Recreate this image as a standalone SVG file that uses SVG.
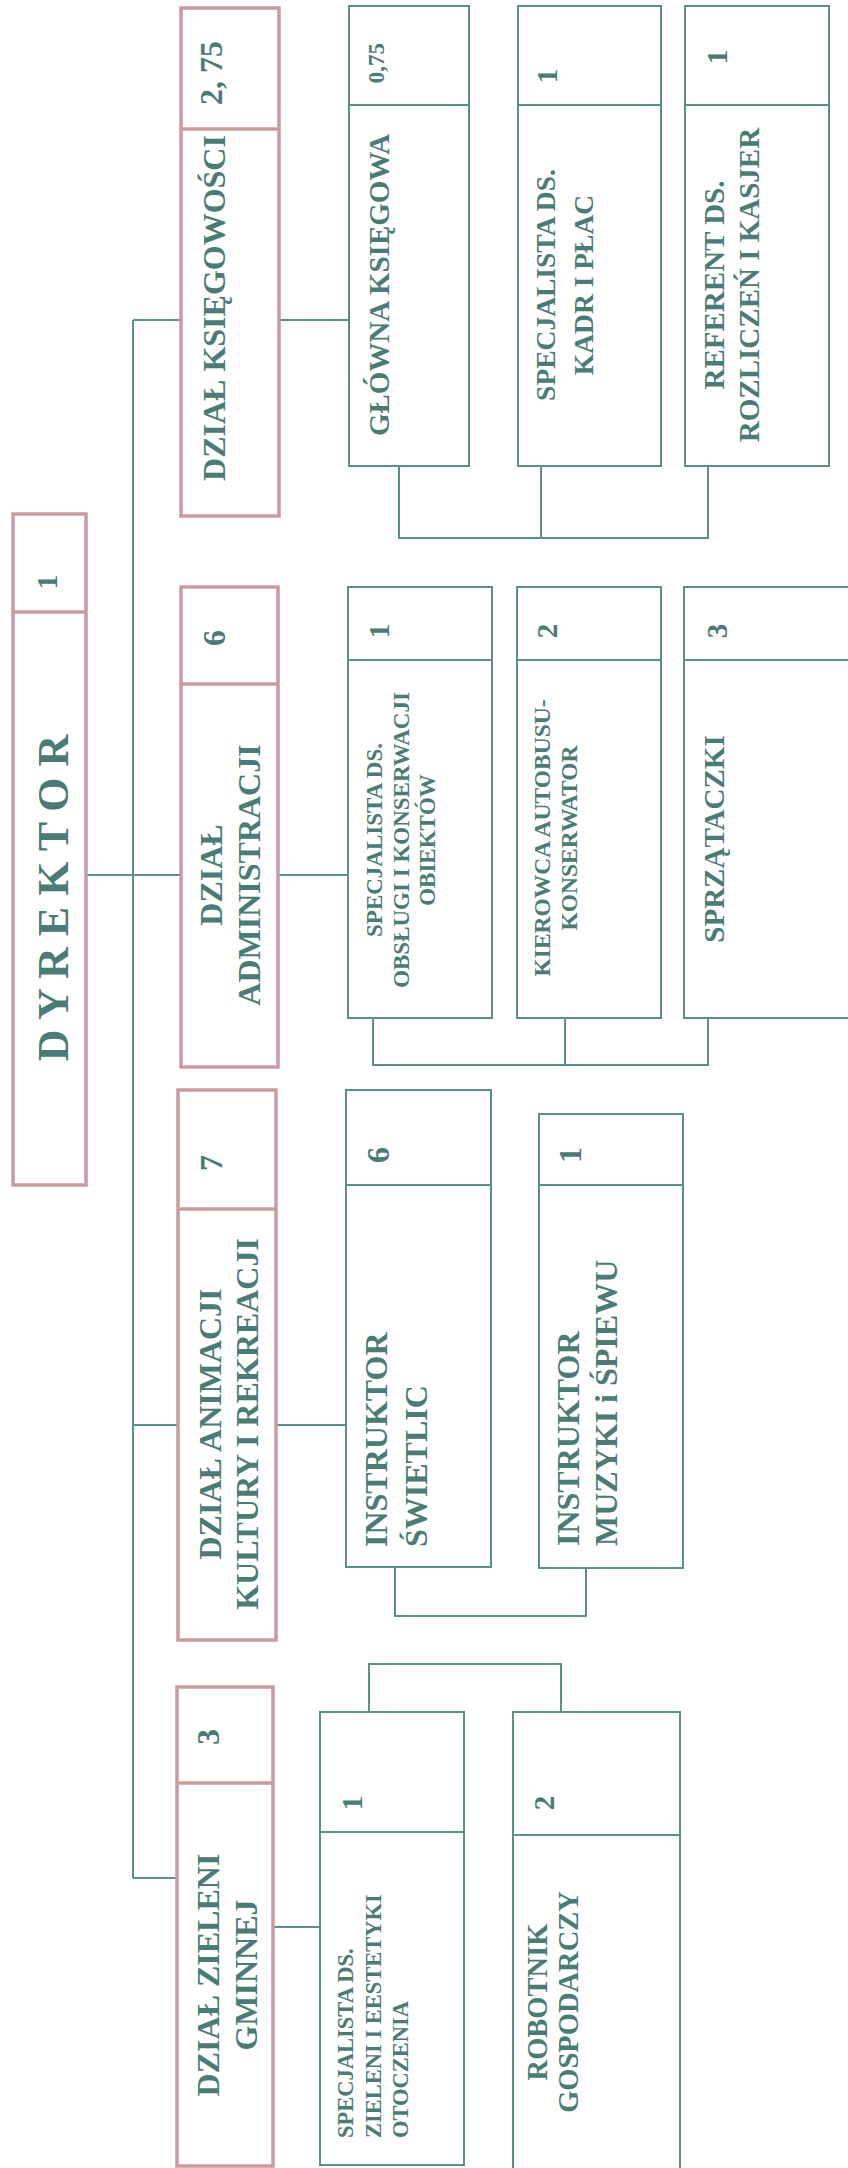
<svg xmlns="http://www.w3.org/2000/svg" width="848" height="2168" viewBox="0 0 848 2168">
<style>
.bg{fill:#ffffff}
.dept{fill:#ffffff;stroke:#c99aa0;stroke-width:3.5}
.ddiv{stroke:#c99aa0;stroke-width:3.5}
.box{fill:#ffffff;stroke:#5b8f88;stroke-width:2}
.bdiv{stroke:#5b8f88;stroke-width:2}
.con{fill:none;stroke:#5b8f88;stroke-width:2}
text{font-family:"Liberation Serif","Times New Roman",serif;font-weight:bold;fill:#4b7b75}
.t32{font-size:32px}
.t29{font-size:29px}
.t23{font-size:23px}
.t22{font-size:22.5px}
.mid{text-anchor:middle}
.st{text-anchor:start}
</style>
<rect class="bg" x="0" y="0" width="848" height="2168"/>

<g id="connectors">
  <path class="con" d="M133,320 V1878"/>
  <path class="con" d="M133,320 H181"/>
  <path class="con" d="M86,875 H181"/>
  <path class="con" d="M133,1425 H178"/>
  <path class="con" d="M133,1878 H177"/>
  <path class="con" d="M279,320 H349"/>
  <path class="con" d="M278,875 H348"/>
  <path class="con" d="M276,1425 H346"/>
  <path class="con" d="M273,1927 H320"/>
  <path class="con" d="M399,466 V538 H708 V466 M541,466 V538"/>
  <path class="con" d="M373,1018 V1065 H708 V1018 M565,1018 V1065"/>
  <path class="con" d="M395,1567 V1616 H586 V1568"/>
  <path class="con" d="M369,1712 V1664 H561 V1712"/>
</g>

<g id="dyrektor">
  <rect class="dept" x="13" y="514" width="73" height="671"/>
  <line class="ddiv" x1="13" y1="612" x2="86" y2="612"/>
  <text class="t29 mid" transform="translate(0,582) rotate(-90)"><tspan x="0" y="57">1</tspan></text>
  <text class="mid" style="font-size:44px" transform="translate(0,898) rotate(-90)"><tspan x="0" y="68">D Y R E K T O R</tspan></text>
</g>

<g id="dzial-ksiegowosci">
  <rect class="dept" x="181" y="8" width="98" height="508"/>
  <line class="ddiv" x1="181" y1="129" x2="279" y2="129"/>
  <text class="t32 mid" transform="translate(0,73) rotate(-90)"><tspan x="0" y="222">2, 75</tspan></text>
  <text class="t32 mid" transform="translate(0,308) rotate(-90)"><tspan x="0" y="225">DZIAŁ KSIĘGOWOŚCI</tspan></text>
</g>

<g id="glowna-ksiegowa">
  <rect class="box" x="349" y="6" width="120" height="460"/>
  <line class="bdiv" x1="349" y1="105" x2="469" y2="105"/>
  <text class="t23 mid" transform="translate(0,63) rotate(-90)"><tspan x="0" y="384">0,75</tspan></text>
  <text class="t29 mid" transform="translate(0,285) rotate(-90)"><tspan x="0" y="389">GŁÓWNA KSIĘGOWA</tspan></text>
</g>

<g id="specjalista-kadr">
  <rect class="box" x="518" y="6" width="143" height="460"/>
  <line class="bdiv" x1="518" y1="105" x2="661" y2="105"/>
  <text class="t29 mid" transform="translate(0,76) rotate(-90)"><tspan x="0" y="557">1</tspan></text>
  <text class="mid" style="font-size:27.5px" transform="translate(0,285) rotate(-90)"><tspan x="0" y="555">SPECJALISTA DS.</tspan><tspan x="0" y="593">KADR I PŁAC</tspan></text>
</g>

<g id="referent">
  <rect class="box" x="685" y="6" width="144" height="460"/>
  <line class="bdiv" x1="685" y1="105" x2="829" y2="105"/>
  <text class="t29 mid" transform="translate(0,57) rotate(-90)"><tspan x="0" y="727">1</tspan></text>
  <text class="t29 mid" transform="translate(0,285) rotate(-90)"><tspan x="0" y="724">REFERENT DS.</tspan><tspan x="0" y="759">ROZLICZEŃ I KASJER</tspan></text>
</g>

<g id="dzial-administracji">
  <rect class="dept" x="181" y="587" width="97" height="480"/>
  <line class="ddiv" x1="181" y1="684" x2="278" y2="684"/>
  <text class="t32 mid" transform="translate(0,638) rotate(-90)"><tspan x="0" y="225">6</tspan></text>
  <text class="t32 mid" transform="translate(0,875) rotate(-90)"><tspan x="0" y="222">DZIAŁ</tspan><tspan x="0" y="260">ADMINISTRACJI</tspan></text>
</g>

<g id="specjalista-obslugi">
  <rect class="box" x="348" y="587" width="144" height="431"/>
  <line class="bdiv" x1="348" y1="660" x2="492" y2="660"/>
  <text class="t29 mid" transform="translate(0,631) rotate(-90)"><tspan x="0" y="389">1</tspan></text>
  <text class="t23 mid" transform="translate(0,840) rotate(-90)"><tspan x="0" y="382">SPECJALISTA DS.</tspan><tspan x="0" y="409">OBSŁUGI I KONSERWACJI</tspan><tspan x="0" y="435">OBIEKTÓW</tspan></text>
</g>

<g id="kierowca">
  <rect class="box" x="517" y="587" width="144" height="431"/>
  <line class="bdiv" x1="517" y1="660" x2="661" y2="660"/>
  <text class="t29 mid" transform="translate(0,631) rotate(-90)"><tspan x="0" y="557">2</tspan></text>
  <text class="mid" style="font-size:23.5px" transform="translate(0,838) rotate(-90)"><tspan x="0" y="550">KIEROWCA AUTOBUSU-</tspan><tspan x="0" y="577">KONSERWATOR</tspan></text>
</g>

<g id="sprzataczki">
  <rect class="box" x="684" y="587" width="200" height="431"/>
  <line class="bdiv" x1="684" y1="660" x2="884" y2="660"/>
  <text class="t29 mid" transform="translate(0,631) rotate(-90)"><tspan x="0" y="727">3</tspan></text>
  <text class="t29 mid" transform="translate(0,839) rotate(-90)"><tspan x="0" y="724">SPRZĄTACZKI</tspan></text>
</g>

<g id="dzial-animacji">
  <rect class="dept" x="178" y="1090" width="98" height="550"/>
  <line class="ddiv" x1="178" y1="1209" x2="276" y2="1209"/>
  <text class="t32 mid" transform="translate(0,1163) rotate(-90)"><tspan x="0" y="222">7</tspan></text>
  <text class="t32 mid" transform="translate(0,1424) rotate(-90)"><tspan x="0" y="221">DZIAŁ ANIMACJI</tspan><tspan x="0" y="258">KULTURY I REKREACJI</tspan></text>
</g>

<g id="instruktor-swietlic">
  <rect class="box" x="346" y="1090" width="145" height="477"/>
  <line class="bdiv" x1="346" y1="1185" x2="491" y2="1185"/>
  <text class="t32 mid" transform="translate(0,1155) rotate(-90)"><tspan x="0" y="389">6</tspan></text>
  <text class="t32 st" transform="translate(0,1547) rotate(-90)"><tspan x="0" y="387">INSTRUKTOR</tspan><tspan x="0" y="427">ŚWIETLIC</tspan></text>
</g>

<g id="instruktor-muzyki">
  <rect class="box" x="539" y="1114" width="144" height="454"/>
  <line class="bdiv" x1="539" y1="1185" x2="683" y2="1185"/>
  <text class="t32 mid" transform="translate(0,1155) rotate(-90)"><tspan x="0" y="581">1</tspan></text>
  <text class="t32 st" transform="translate(0,1546) rotate(-90)"><tspan x="0" y="579">INSTRUKTOR</tspan><tspan x="0" y="617">MUZYKI i ŚPIEWU</tspan></text>
</g>

<g id="dzial-zieleni">
  <rect class="dept" x="177" y="1687" width="96" height="479"/>
  <line class="ddiv" x1="177" y1="1783" x2="273" y2="1783"/>
  <text class="t32 mid" transform="translate(0,1737) rotate(-90)"><tspan x="0" y="219">3</tspan></text>
  <text class="t32 mid" transform="translate(0,1975) rotate(-90)"><tspan x="0" y="219">DZIAŁ ZIELENI</tspan><tspan x="0" y="257">GMINNEJ</tspan></text>
</g>

<g id="specjalista-zieleni">
  <rect class="box" x="320" y="1712" width="144" height="453"/>
  <line class="bdiv" x1="320" y1="1832" x2="464" y2="1832"/>
  <text class="t29 mid" transform="translate(0,1803) rotate(-90)"><tspan x="0" y="362">1</tspan></text>
  <text class="t22 st" transform="translate(0,2138) rotate(-90)"><tspan x="0" y="353">SPECJALISTA DS.</tspan><tspan x="0" y="381">ZIELENI I  EESTETYKI</tspan><tspan x="0" y="408">OTOCZENIA</tspan></text>
</g>

<g id="robotnik">
  <rect class="box" x="513" y="1712" width="167" height="470"/>
  <line class="bdiv" x1="513" y1="1835" x2="680" y2="1835"/>
  <text class="t29 mid" transform="translate(0,1803) rotate(-90)"><tspan x="0" y="554">2</tspan></text>
  <text class="mid" style="font-size:28.5px" transform="translate(0,2002) rotate(-90)"><tspan x="0" y="547">ROBOTNIK</tspan><tspan x="0" y="578">GOSPODARCZY</tspan></text>
</g>
</svg>
